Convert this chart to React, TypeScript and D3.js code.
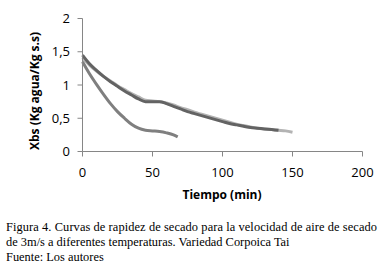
import React from "react";
import * as d3 from "d3";

const xTicks = [0, 50, 100, 150, 200];
const yTicks = [0, 0.5, 1, 1.5, 2];
const yTickLabels = ["0", "0,5", "1", "1,5", "2"];

const fastT = [0, 5, 10, 15, 20, 25, 30, 35, 40, 45, 50, 55, 60, 65, 68];
const fastX = [1.35, 1.17, 1.01, 0.86, 0.72, 0.6, 0.5, 0.41, 0.35, 0.32, 0.31, 0.3, 0.28, 0.25, 0.22];

const lightT = [0, 5, 10, 15, 20, 25, 30, 35, 40, 45, 50, 55, 60, 65, 70, 75, 80, 85, 90, 95, 100, 105, 110, 115, 120, 125, 130, 135, 140, 145, 150];
const lightX = [1.41, 1.3, 1.21, 1.13, 1.06, 0.99, 0.93, 0.87, 0.82, 0.77, 0.76, 0.75, 0.73, 0.7, 0.66, 0.63, 0.59, 0.56, 0.53, 0.5, 0.47, 0.44, 0.41, 0.39, 0.37, 0.35, 0.34, 0.33, 0.32, 0.31, 0.29];

const darkT = [0, 5, 10, 15, 20, 25, 30, 35, 40, 45, 50, 55, 60, 65, 70, 75, 80, 85, 90, 95, 100, 105, 110, 115, 120, 125, 130, 135, 140];
const darkX = [1.45, 1.32, 1.22, 1.13, 1.05, 0.98, 0.91, 0.85, 0.79, 0.75, 0.75, 0.75, 0.72, 0.68, 0.64, 0.6, 0.57, 0.54, 0.51, 0.48, 0.45, 0.42, 0.4, 0.38, 0.36, 0.35, 0.34, 0.33, 0.32];

const captionLines = [
  "Figura 4. Curvas de rapidez de secado para la velocidad de aire de secado",
  "de 3m/s a diferentes temperaturas. Variedad Corpoica Tai",
  "Fuente: Los autores",
];

export default function App() {
  const x = d3.scaleLinear().domain([0, 200]).range([82.5, 362.5]);
  const y = d3.scaleLinear().domain([0, 2]).range([151.5, 18.5]);
  const line = d3
    .line<[number, number]>()
    .x((d) => x(d[0]))
    .y((d) => y(d[1]))
    .curve(d3.curveMonotoneX);
  const series = [
    { t: lightT, v: lightX, color: "#b3b3b3" },
    { t: darkT, v: darkX, color: "#636363" },
    { t: fastT, v: fastX, color: "#7f7f7f" },
  ];
  const axisColor = "#868686";
  const font = "'Open Sans', 'Liberation Sans', sans-serif";
  return (
    <svg
      width={390}
      height={269}
      style={{ position: "absolute", left: 0, top: 0, background: "#fff" }}
    >
      {series.map((s, i) => (
        <path
          key={i}
          d={line(s.t.map((t, j) => [t, s.v[j]] as [number, number])) || ""}
          fill="none"
          stroke={s.color}
          strokeWidth={3}
          strokeLinejoin="round"
        />
      ))}
      <line x1={x(0)} x2={x(0)} y1={y(2)} y2={y(0)} stroke={axisColor} />
      <line x1={x(0)} x2={x(200)} y1={y(0)} y2={y(0)} stroke={axisColor} />
      {yTicks.map((t, i) => (
        <g key={"y" + i}>
          <line x1={x(0) - 5} x2={x(0)} y1={y(t)} y2={y(t)} stroke={axisColor} />
          <text
            x={70}
            y={y(t)}
            dy="0.36em"
            textAnchor="end"
            fontFamily={font}
            fontSize={13}
            fill="#000"
          >
            {yTickLabels[i]}
          </text>
        </g>
      ))}
      {xTicks.map((t, i) => (
        <g key={"x" + i}>
          <line x1={x(t)} x2={x(t)} y1={y(0)} y2={y(0) + 5} stroke={axisColor} />
          <text
            x={x(t)}
            y={172}
            dy="0.36em"
            textAnchor="middle"
            fontFamily={font}
            fontSize={13}
            fill="#000"
          >
            {t}
          </text>
        </g>
      ))}
      <text
        x={222}
        y={195}
        dy="0.36em"
        textAnchor="middle"
        fontFamily={font}
        fontSize={12}
        fontWeight="bold"
      >
        Tiempo (min)
      </text>
      <text
        transform={`translate(35,91) rotate(-90)`}
        dy="0.36em"
        textAnchor="middle"
        fontFamily={font}
        fontSize={12}
        fontWeight="bold"
      >
        Xbs (Kg agua/Kg s.s)
      </text>
      {captionLines.map((l, i) => (
        <text
          key={"c" + i}
          x={6}
          y={231 + i * 15}
          fontFamily="'Liberation Serif', 'Times New Roman', serif"
          fontSize={12.4}
          fill="#000"
          textLength={i === 0 ? 371 : undefined}
          lengthAdjust="spacing"
        >
          {l}
        </text>
      ))}
    </svg>
  );
}
